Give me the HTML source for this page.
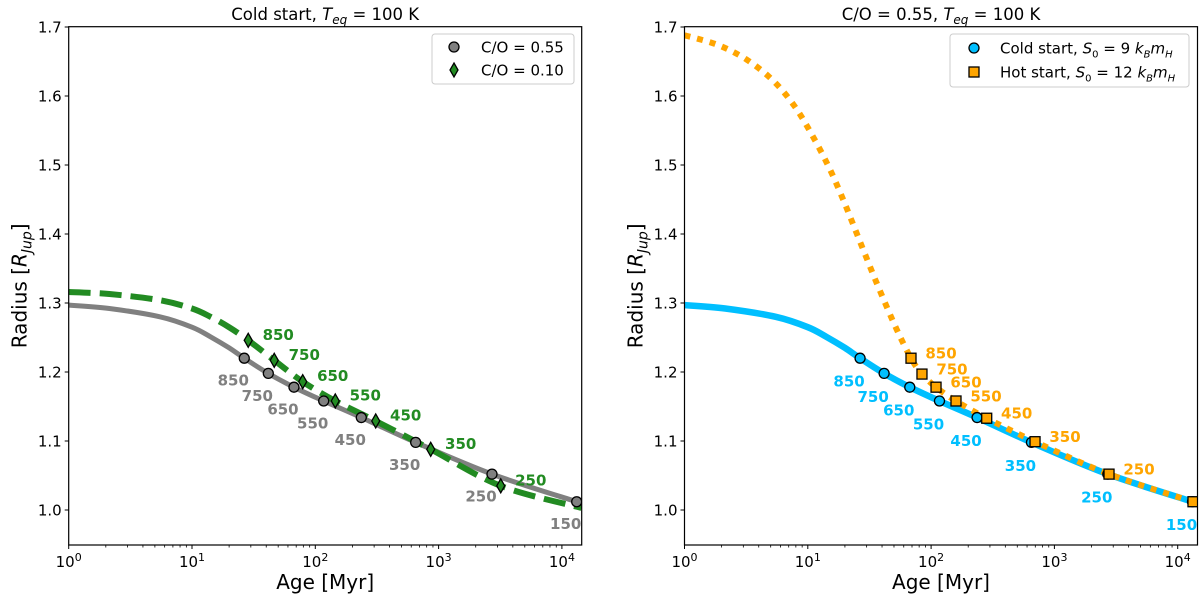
<!DOCTYPE html>
<html><head><meta charset="utf-8"><style>
body{margin:0;background:#fff;}
svg{display:block;font-family:"DejaVu Sans","Liberation Sans",sans-serif;}
</style></head><body>
<svg id="c" width="1200" height="602" viewBox="0 0 1200 602"></svg>
<script>
// ---- data ----
const masses = [850,750,650,550,450,350,250,150];
const grayAges = [1.424,1.619,1.827,2.068,2.373,2.814,3.433,4.12];   // log10 Myr
const grayRad = [1.220,1.198,1.178,1.158,1.134,1.098,1.052,1.012];
const greenAges = [1.456,1.667,1.898,2.162,2.490,2.936,3.504];
const greenRad = [1.246,1.217,1.186,1.158,1.129,1.088,1.035];
const orangeAges = [1.837,1.926,2.040,2.202,2.451,2.843,3.443,4.124];
const orangeRad = [1.220,1.197,1.178,1.158,1.133,1.099,1.052,1.012];
const grayCurveX = [0,0.33,0.74,1.0,1.15,1.3,1.424,1.619,1.827,2.068,2.373,2.814,3.433,4.12,4.16];
const grayCurveY = [1.297,1.292,1.280,1.265,1.251,1.235,1.220,1.198,1.178,1.158,1.134,1.098,1.052,1.012,1.010];
const greenCurveX = [0,0.33,0.74,1.0,1.15,1.3,1.456,1.667,1.898,2.162,2.490,2.936,3.504,4.16];
const greenCurveY = [1.316,1.313,1.304,1.292,1.280,1.265,1.246,1.217,1.186,1.158,1.129,1.088,1.035,1.003];
const orangeCurveX = [0,0.27,0.51,0.72,0.89,1.03,1.16,1.27,1.37,1.47,1.57,1.72,1.837,1.926,2.040,2.202,2.451,2.843,3.443,4.124,4.16];
const orangeCurveY = [1.688,1.674,1.652,1.622,1.586,1.545,1.501,1.457,1.413,1.368,1.324,1.262,1.220,1.197,1.178,1.158,1.133,1.099,1.052,1.012,1.010];
const yTicks = [1.0,1.1,1.2,1.3,1.4,1.5,1.6,1.7];
const xTicks = [0,1,2,3,4];

const svg = document.getElementById('c');
const NS = 'http://www.w3.org/2000/svg';
function mk(tag, attrs, parent){const e=document.createElementNS(NS,tag);for(const k in attrs)e.setAttribute(k,attrs[k]);(parent||svg).appendChild(e);return e;}

const T=26.7,B=545,Y0=510,PX=690;
const dec=123.3;
function yS(r){return Y0-(r-1.0)*PX;}
function mkX(left){return l=>left+l*dec;}

function curvePath(xs,ys,xf){
  const p=xs.map((x,i)=>[xf(x),yS(ys[i])]);
  let d='M'+p[0][0].toFixed(1)+','+p[0][1].toFixed(1);
  for(let i=0;i<p.length-1;i++){
    const p0=p[Math.max(0,i-1)],p1=p[i],p2=p[i+1],p3=p[Math.min(p.length-1,i+2)];
    const c1=[p1[0]+(p2[0]-p0[0])/6,p1[1]+(p2[1]-p0[1])/6];
    const c2=[p2[0]-(p3[0]-p1[0])/6,p2[1]-(p3[1]-p1[1])/6];
    d+=`C${c1[0].toFixed(1)},${c1[1].toFixed(1)} ${c2[0].toFixed(1)},${c2[1].toFixed(1)} ${p2[0].toFixed(1)},${p2[1].toFixed(1)}`;
  }
  return d;
}

function panel(left,right,title,name){
  const g=mk('g',{});
  
  
  const xf=mkX(left);
  const cp=mk('clipPath',{id:name+'-clip'},g);
  mk('rect',{x:left,y:T,width:right-left,height:B-T},cp);
  yTicks.forEach(v=>{
    const y=yS(v);
    const t=mk('line',{x1:left-4,x2:left,y1:y,y2:y,stroke:'#000','stroke-width':1},g);
    
    
    const tx=mk('text',{x:left-7,y:y+5.5,'text-anchor':'end','font-size':15},g);
    tx.textContent=v.toFixed(1);
    
    
  });
  xTicks.forEach(v=>{
    const x=xf(v);
    mk('line',{x1:x,x2:x,y1:B,y2:B+4,stroke:'#000','stroke-width':1},g);
    const tx=mk('text',{x:x,y:B+22,'text-anchor':'middle','font-size':15},g);
    tx.innerHTML='10<tspan dy="-6" font-size="11">'+v+'</tspan>';
    
    
    for(let k=2;k<=9;k++){
      const lx=xf(v+Math.log10(k));
      if(lx<right) mk('line',{x1:lx,x2:lx,y1:B,y2:B+2.5,stroke:'#000','stroke-width':0.8},g);
    }
  });
  const tt=mk('text',{x:(left+right)/2,y:20,'text-anchor':'middle','font-size':16.5},g);
  tt.innerHTML=title;
  
  
  const xl=mk('text',{x:(left+right)/2,y:589,'text-anchor':'middle','font-size':20},g);
  xl.textContent='Age [Myr]';
  
  
  const yl=mk('text',{x:0,y:0,'text-anchor':'middle','font-size':20,transform:`translate(${left-42},${(T+B)/2}) rotate(-90)`},g);
  yl.innerHTML='Radius [<tspan font-style="italic">R</tspan><tspan font-style="italic" font-size="14" dy="5">Jup</tspan><tspan dy="-5">]</tspan>';
  
  
  return {g,xf,clip:`url(#${name}-clip)`};
}

function labels(g,xs,ys,xf,color,dx,dy,name){
  xs.forEach((a,i)=>{
    const t=mk('text',{x:xf(a)+dx,y:yS(ys[i])+dy+5.5,'text-anchor':'middle','font-size':15,'font-weight':'bold',fill:color},g);
    t.textContent=masses[i];
    
    
  });
}

// ---- left panel ----
const L=panel(68.7,581.7,'Cold start, <tspan font-style="italic">T</tspan><tspan font-style="italic" font-size="12" dy="4">eq</tspan><tspan dy="-4"> = 100 K</tspan>','left-panel');
const lg=mk('g',{'clip-path':L.clip},L.g);
const gc=mk('path',{d:curvePath(grayCurveX,grayCurveY,L.xf),fill:'none',stroke:'#808080','stroke-width':5},lg);


const grc=mk('path',{d:curvePath(greenCurveX,greenCurveY,L.xf),fill:'none',stroke:'#228b22','stroke-width':6,'stroke-dasharray':'22,9'},lg);


grayAges.forEach((a,i)=>{
  const c=mk('circle',{cx:L.xf(a),cy:yS(grayRad[i]),r:5,fill:'#808080',stroke:'#000','stroke-width':1.3},lg);
  
  
});
greenAges.forEach((a,i)=>{
  const x=L.xf(a),y=yS(greenRad[i]);
  const p=mk('polygon',{points:`${x},${y-7} ${x+4},${y} ${x},${y+7} ${x-4},${y}`,fill:'#228b22',stroke:'#000','stroke-width':1.3},lg);
  
  
});
labels(L.g,grayAges,grayRad,L.xf,'#808080',-11,22,'gray-mass-label');
labels(L.g,greenAges,greenRad,L.xf,'#228b22',30,-6,'green-mass-label');
mk('rect',{x:68.7,y:T,width:513,height:B-T,fill:'none',stroke:'#000','stroke-width':1.2},L.g);
const lgd=mk('g',{},L.g);


mk('rect',{x:432,y:34,width:142,height:50,rx:3,fill:'#fff',stroke:'#ccc'},lgd);
mk('circle',{cx:454,cy:47,r:5,fill:'#808080',stroke:'#000','stroke-width':1.3},lgd);
let d1=mk('text',{x:481,y:52.5,'font-size':15},lgd);d1.textContent='C/O = 0.55';
mk('polygon',{points:'454,63 458,70 454,77 450,70',fill:'#228b22',stroke:'#000','stroke-width':1.3},lgd);
let d2=mk('text',{x:481,y:75.5,'font-size':15},lgd);d2.textContent='C/O = 0.10';

// ---- right panel ----
const R=panel(684.5,1197.5,'C/O = 0.55, <tspan font-style="italic">T</tspan><tspan font-style="italic" font-size="12" dy="4">eq</tspan><tspan dy="-4"> = 100 K</tspan>','right-panel');
const rg=mk('g',{'clip-path':R.clip},R.g);
const cc=mk('path',{d:curvePath(grayCurveX,grayCurveY,R.xf),fill:'none',stroke:'#00bfff','stroke-width':6.5},rg);


const oc=mk('path',{d:curvePath(orangeCurveX,orangeCurveY,R.xf),fill:'none',stroke:'#ffa500','stroke-width':6,'stroke-dasharray':'6,7'},rg);


grayAges.forEach((a,i)=>{
  const c=mk('circle',{cx:R.xf(a),cy:yS(grayRad[i]),r:5,fill:'#00bfff',stroke:'#000','stroke-width':1.3},rg);
  
  
});
orangeAges.forEach((a,i)=>{
  const s=mk('rect',{x:R.xf(a)-5,y:yS(orangeRad[i])-5,width:10,height:10,fill:'#ffa500',stroke:'#000','stroke-width':1.3},rg);
  
  
});
labels(R.g,grayAges,grayRad,R.xf,'#00bfff',-11,23,'cyan-mass-label');
labels(R.g,orangeAges.slice(0,7),orangeRad.slice(0,7),R.xf,'#ffa500',30,-5,'orange-mass-label');
mk('rect',{x:684.5,y:T,width:513,height:B-T,fill:'none',stroke:'#000','stroke-width':1.2},R.g);
const rgd=mk('g',{},R.g);


mk('rect',{x:950,y:34,width:239,height:53,rx:3,fill:'#fff',stroke:'#ccc'},rgd);
mk('circle',{cx:974,cy:48,r:5,fill:'#00bfff',stroke:'#000','stroke-width':1.3},rgd);
let r1=mk('text',{x:1000,y:53.5,'font-size':15},rgd);
r1.innerHTML='Cold start, <tspan font-style="italic">S</tspan><tspan font-size="10" dy="4">0</tspan><tspan dy="-4"> = 9 </tspan><tspan font-style="italic">k</tspan><tspan font-style="italic" font-size="10" dy="4">B</tspan><tspan font-style="italic" dy="-4">m</tspan><tspan font-style="italic" font-size="10" dy="4">H</tspan>';
mk('rect',{x:969,y:67,width:10,height:10,fill:'#ffa500',stroke:'#000','stroke-width':1.3},rgd);
let r2=mk('text',{x:1000,y:77.5,'font-size':15},rgd);
r2.innerHTML='Hot start, <tspan font-style="italic">S</tspan><tspan font-size="10" dy="4">0</tspan><tspan dy="-4"> = 12 </tspan><tspan font-style="italic">k</tspan><tspan font-style="italic" font-size="10" dy="4">B</tspan><tspan font-style="italic" dy="-4">m</tspan><tspan font-style="italic" font-size="10" dy="4">H</tspan>';
</script>
</body></html>
